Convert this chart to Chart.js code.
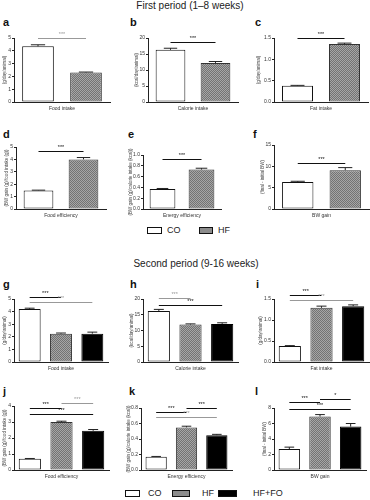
<!DOCTYPE html>
<html>
<head>
<meta charset="utf-8">
<script src="https://cdn.jsdelivr.net/npm/chart.js@4"></script>
<style>
  body { margin: 0; background: #fff; font-family: "Liberation Sans", Arial, sans-serif; }
  #fig { position: relative; width: 370px; height: 500px; overflow: hidden; }
  #fig canvas { position: absolute; }
  .lbl { position: absolute; font-weight: bold; font-size: 11px; color: #111; line-height: 1; }
  .ttl { position: absolute; left: 0; width: 380px; text-align: center; font-size: 10px; color: #222; line-height: 1; }
  .leg { position: absolute; font-size: 9px; color: #222; line-height: 1; }
  .sw { position: absolute; border: 1px solid #111; box-sizing: border-box; }
</style>
</head>
<body>
<div id="fig">
  <div class="ttl" style="top:1px">First period (1–8 weeks)</div>
  <div class="ttl" style="top:259px;left:6px">Second period (9-16 weeks)</div>
</div>
<script>
const groups1 = ["CO", "HF"];
const groups2 = ["CO", "HF", "HF+FO"];
const xTitles = ["Food intake", "Calorie intake", "Fat intake", "Food efficiency", "Energy efficiency", "BW gain"];
const yTitles = ["(g/day/animal)", "(kcal/day/animal)", "(g/day/animal)",
  "(BW gain (g)/food intake (g))", "(BW gain (g)/calorie intake (kcal))", "(final - initial BW)"];
const yMax = [5, 20, 1.5, 5, 1.0, 15, 5, 20, 1.5, 4, 0.8, 8];
const yStep = [1, 5, 0.5, 1, 0.2, 5, 1, 5, 0.5, 1, 0.2, 2];

// first period (1-8 weeks)
const aMean = [4.35, 2.3], aSem = [0.12, 0.04], aSig = [[0, 1, 5.0, "***"]];
const bMean = [16.3, 12.2], bSem = [0.5, 0.45], bSig = [[0, 1, 18.7, "***"]];
const cMean = [0.38, 1.36], cSem = [0.01, 0.02], cSig = [[0, 1, 1.5, "***"]];
const dMean = [1.5, 4.0], dSem = [0.02, 0.15], dSig = [[0, 1, 4.7, "***"]];
const eMean = [0.37, 0.73], eSem = [0.01, 0.025], eSig = [[0, 1, 0.93, "***"]];
const fMean = [6.3, 9.1], fSem = [0.2, 0.6], fSig = [[0, 1, 10.8, "***"]];

// second period (9-16 weeks)
const gMean = [4.2, 2.25, 2.25], gSem = [0.07, 0.05, 0.12];
const gSig = [[0, 1, 5.15, "***"], [0, 2, 4.75, "***"]];
const hMean = [16.2, 11.9, 12.1], hSem = [0.5, 0.2, 0.35];
const hSig = [[0, 1, 20.2, "***"], [0, 2, 18.0, "***"]];
const iMean = [0.38, 1.29, 1.33], iSem = [0.01, 0.04, 0.03];
const iSig = [[0, 1, 1.6, "***"], [0, 2, 1.48, "***"]];
const jMean = [0.7, 3.0, 2.45], jSem = [0.02, 0.05, 0.08];
const jSig = [[0, 1, 3.85, "***"], [1, 2, 4.2, "***"], [0, 2, 3.5, "***"]];
const kMean = [0.17, 0.55, 0.45], kSem = [0.005, 0.015, 0.01];
const kSig = [[0, 1, 0.75, "***"], [1, 2, 0.8, "***"], [0, 2, 0.68, "***"]];
const lMean = [2.7, 6.9, 5.6], lSem = [0.25, 0.25, 0.4];
const lSig = [[0, 1, 8.8, "***"], [1, 2, 9.2, "*"], [0, 2, 7.9, "***"]];

const FONT = "Liberation Sans";
const fig = document.getElementById("fig");

function checker() {
  const c = document.createElement("canvas");
  c.width = 2; c.height = 2;
  const g = c.getContext("2d");
  g.fillStyle = "#737373"; g.fillRect(0, 0, 2, 2);
  g.fillStyle = "#a6a6a6"; g.fillRect(0, 0, 1, 1); g.fillRect(1, 1, 1, 1);
  return g.createPattern(c, "repeat");
}
const hfFill = checker();

function extras(mean, sem, sig, gray) {
  return {
    id: "extras",
    afterDatasetsDraw(chart) {
      const ctx = chart.ctx, x = chart.scales.x, y = chart.scales.y;
      const bars = chart.getDatasetMeta(0).data;
      ctx.save();
      ctx.lineWidth = 1;
      ctx.strokeStyle = "#222";
      sem.forEach((e, i) => {
        const b = bars[i];
        const top = y.getPixelForValue(mean[i] + e);
        const w = b.width * 0.45;
        ctx.beginPath();
        ctx.moveTo(b.x, b.y); ctx.lineTo(b.x, top);
        ctx.moveTo(b.x - w / 2, top); ctx.lineTo(b.x + w / 2, top);
        ctx.stroke();
      });
      ctx.font = "5.5px " + FONT;
      ctx.textAlign = "center";
      ctx.textBaseline = "bottom";
      sig.forEach(([i, j, v, txt], k) => {
        const col = gray.includes(k) ? "#999" : "#111";
        const x1 = x.getPixelForValue(i), x2 = x.getPixelForValue(j);
        const py = Math.round(y.getPixelForValue(v)) + 0.5;
        ctx.strokeStyle = col;
        ctx.fillStyle = col;
        ctx.beginPath();
        ctx.moveTo(x1, py); ctx.lineTo(x2, py);
        ctx.stroke();
        ctx.fillText(txt, (x1 + x2) / 2, py - 1);
      });
      ctx.restore();
    }
  };
}

// page positions of each plot area: left, top, right, bottom, y-axis width
const panels = [
  { k: "a", l: 14, t: 38, r: 110, b: 102, yw: 12, lx: 3, ly: 17, gray: [0] },
  { k: "b", l: 148, t: 38, r: 238, b: 102, yw: 14, lx: 130, ly: 17, gray: [] },
  { k: "c", l: 274, t: 38, r: 368, b: 102, yw: 18, lx: 255, ly: 17, gray: [] },
  { k: "d", l: 16, t: 147, r: 106, b: 209, yw: 12, lx: 3, ly: 129, gray: [] },
  { k: "e", l: 143, t: 155, r: 221, b: 209, yw: 15, lx: 128, ly: 129, gray: [] },
  { k: "f", l: 274, t: 145, r: 369, b: 209, yw: 14, lx: 253, ly: 129, gray: [] },
  { k: "g", l: 14, t: 299, r: 108, b: 362, yw: 12, lx: 3, ly: 279, gray: [1] },
  { k: "h", l: 143, t: 299, r: 238, b: 362, yw: 14, lx: 130, ly: 279, gray: [0] },
  { k: "i", l: 274, t: 299, r: 369, b: 362, yw: 16, lx: 256, ly: 279, gray: [1] },
  { k: "j", l: 14, t: 406, r: 109, b: 470, yw: 12, lx: 3, ly: 386, gray: [1] },
  { k: "k", l: 141, t: 408, r: 232, b: 470, yw: 15, lx: 129, ly: 386, gray: [2] },
  { k: "l", l: 274, t: 408, r: 366, b: 470, yw: 12, lx: 255, ly: 386, gray: [] },
];
const means = [aMean, bMean, cMean, dMean, eMean, fMean, gMean, hMean, iMean, jMean, kMean, lMean];
const sems = [aSem, bSem, cSem, dSem, eSem, fSem, gSem, hSem, iSem, jSem, kSem, lSem];
const sigs = [aSig, bSig, cSig, dSig, eSig, fSig, gSig, hSig, iSig, jSig, kSig, lSig];

panels.forEach((p, n) => {
  const lab = document.createElement("div");
  lab.className = "lbl";
  lab.textContent = p.k;
  lab.style.left = p.lx + "px";
  lab.style.top = p.ly + "px";
  fig.appendChild(lab);

  const padTop = 16, xh = 10;
  const cx = p.l - p.yw, cy = p.t - padTop;
  const cw = p.r + 2 - cx, ch = p.b + xh - cy;
  const cv = document.createElement("canvas");
  cv.width = cw; cv.height = ch;
  cv.style.left = cx + "px";
  cv.style.top = cy + "px";
  fig.appendChild(cv);

  const labels = means[n].length === 2 ? groups1 : groups2;
  const fills = ["#ffffff", hfFill, "#000000"];
  const dec = yStep[n] < 1 ? 1 : 0;
  new Chart(cv.getContext("2d"), {
    type: "bar",
    data: {
      labels,
      datasets: [{
        data: means[n],
        backgroundColor: fills.slice(0, labels.length),
        borderColor: ["#111", "#333", "#000"].slice(0, labels.length),
        borderWidth: 1,
        borderSkipped: false,
        barPercentage: labels.length === 2 ? 0.66 : 0.7,
        categoryPercentage: 1,
      }],
    },
    options: {
      responsive: false,
      animation: false,
      layout: { padding: { top: padTop, right: 2, left: 0, bottom: 0 } },
      plugins: { legend: { display: false }, tooltip: { enabled: false } },
      scales: {
        x: {
          afterFit: (s) => { s.height = xh; },
          ticks: { display: false },
          grid: { display: false },
          border: { display: true, color: "#222", width: 1 },
          title: { display: true, text: xTitles[n % 6], color: "#333", padding: 0,
                   font: { size: 5, family: FONT } },
        },
        y: {
          min: 0,
          max: yMax[n],
          afterFit: (s) => { s.width = p.yw; },
          ticks: { stepSize: yStep[n], padding: 1, color: "#333",
                   font: { size: 5, family: FONT },
                   callback: (v) => Number(v).toFixed(dec) },
          grid: { drawOnChartArea: false, drawTicks: true, tickLength: 2, color: "#222" },
          border: { display: true, color: "#222", width: 1 },
          title: { display: true, text: yTitles[n % 6], color: "#444", padding: 0,
                   font: { size: 4.5, family: FONT } },
        },
      },
    },
    plugins: [extras(means[n], sems[n], sigs[n], p.gray)],
  });
});

function legend(items, top) {
  items.forEach(([name, fill, sx, sw, tx]) => {
    const s = document.createElement("div");
    s.className = "sw";
    s.style.cssText = `left:${sx}px;top:${top}px;width:${sw}px;height:7px;background:${fill}`;
    fig.appendChild(s);
    const t = document.createElement("div");
    t.className = "leg";
    t.textContent = name;
    t.style.left = tx + "px";
    t.style.top = (top - 1) + "px";
    fig.appendChild(t);
  });
}
legend([["CO", "#fff", 147, 15, 167], ["HF", "#8c8c8c", 199, 14, 218]], 227);
legend([["CO", "#fff", 125, 15, 148], ["HF", "#8c8c8c", 172, 18, 202], ["HF+FO", "#000", 218, 19, 253]], 490);
</script>
</body>
</html>
